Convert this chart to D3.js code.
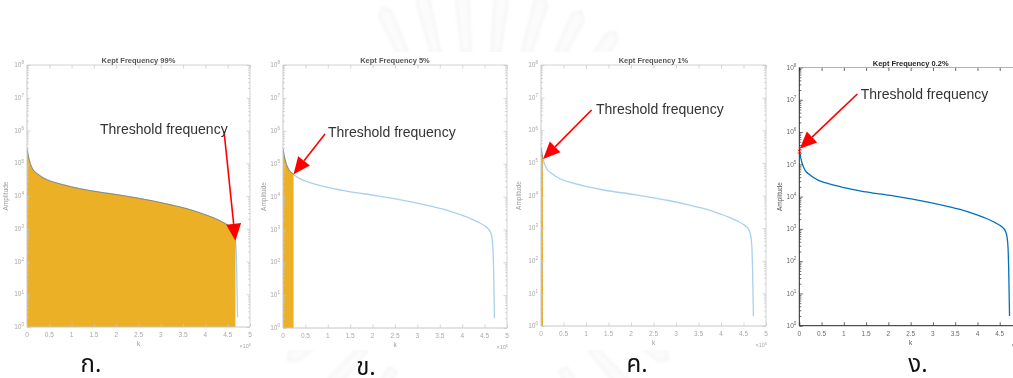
<!DOCTYPE html>
<html>
<head>
<meta charset="utf-8">
<script src="https://cdn.jsdelivr.net/npm/d3@7"></script>
<style>
  body { margin: 0; background: #fff; }
  svg { display: block; }
  text { font-family: "Liberation Sans", Arial, Helvetica, sans-serif; }
</style>
</head>
<body>
<svg id="fig" width="1013" height="378"></svg>
<script>
// Sorted magnitude spectrum: coefficient index k (in units of 10^6) and its amplitude
const kIndex    = [0, 0.0094, 0.025, 0.054, 0.128, 0.24, 0.43, 0.62, 1.0, 1.36, 2.11, 2.86, 3.3, 3.61, 3.99, 4.2, 4.36, 4.5, 4.58, 4.63, 4.66, 4.68, 4.69, 4.70, 4.71, 4.72];
const amplitude = [2.8e5, 2.45e5, 1.8e5, 1.2e5, 6.6e4, 4.7e4, 3.2e4, 2.6e4, 1.9e4, 1.5e4, 1.05e4, 6.9e3, 5.1e3, 4.0e3, 2.7e3, 2.1e3, 1.66e3, 1.29e3, 1.05e3, 830, 600, 355, 200, 68, 12.6, 2];

// Share of coefficients kept in each panel (percent)
const keptPercent = [99, 5, 1, 0.2];
const panelLabels = ["ก.", "ข.", "ค.", "ง."];
const annotationText = "Threshold frequency";

// Axis ticks
const xTicks = [0, 0.5, 1, 1.5, 2, 2.5, 3, 3.5, 4, 4.5, 5];
const yExponents = [0, 1, 2, 3, 4, 5, 6, 7, 8];

// Panel frames, image backgrounds and annotation placement (pixels)
const frames = [
  { left: 27,    right: 250,  top: 65,   bottom: 327,   faded: true,  sheet: [0, 52, 259, 298],   textAt: [100, 134],   arrowFrom: [224, 131],   ylabX: 8,   label: [91, 372] },
  { left: 283,   right: 507,  top: 65,   bottom: 328,   faded: true,  sheet: [262, 52, 254, 298], textAt: [328, 136.7], arrowFrom: [325, 134],   ylabX: 266, label: [366, 375] },
  { left: 541,   right: 766,  top: 65,   bottom: 326,   faded: true,  sheet: [516, 52, 254, 298], textAt: [596, 114.3], arrowFrom: [591.7, 110], ylabX: 521, label: [637, 372] },
  { left: 799.3, right: 1022, top: 67.5, bottom: 325.7, faded: false, sheet: [772, 52, 241, 298], textAt: [860.7, 99],  arrowFrom: [857.3, 94],  ylabX: 782, label: [918, 372] }
];

const fadedStyle = { box: "#c6c6c6", boxTop: "#c6c6c6", tick: "#a8a8a8", title: "#555", axisLabel: "#9a9a9a", line: "#a9d1ec", fill: "#ecb025", edge: "#7a7a7a" };
const sharpStyle = { box: "#262626", boxTop: "#a0a0a0", tick: "#6a6a6a", title: "#262626", axisLabel: "#555", line: "#0072bd", fill: "#edb120", edge: "#000" };

const svg = d3.select("#fig");
const defs = svg.append("defs");
defs.append("filter").attr("id", "soft").attr("x", "-5%").attr("y", "-5%").attr("width", "110%").attr("height", "110%")
  .append("feGaussianBlur").attr("stdDeviation", 0.45);
defs.append("filter").attr("id", "haze").append("feGaussianBlur").attr("stdDeviation", 1.5);

// faint seal watermark behind the panels
const seal = svg.append("g").attr("transform", "translate(478,222)").attr("filter", "url(#haze)").attr("opacity", 0.5);
const rayAngles = d3.range(-24, 44, 10).concat(d3.range(126, 240, 12));
rayAngles.forEach(a => {
  const r0 = 170, r1 = 228, w = 4.5;
  seal.append("path")
    .attr("d", `M${r0},${-w}L${r1},${-w * 1.5}L${r1 + 7},0L${r1},${w * 1.5}L${r0},${w}Z`)
    .attr("transform", `rotate(${a - 90})`)
    .attr("fill", "#f6f6f6").attr("stroke", "#dedede").attr("stroke-width", 1.2);
});

const totalK = kIndex[kIndex.length - 1];
const series = kIndex.map((k, i) => ({ k, a: amplitude[i] }));

// amplitude on the curve at a given k (log-linear between samples)
function amplitudeAt(k) {
  const i = Math.max(1, d3.bisectLeft(kIndex, k));
  const k0 = kIndex[i - 1], k1 = kIndex[i];
  const t = (k - k0) / (k1 - k0);
  return Math.pow(10, Math.log10(amplitude[i - 1]) * (1 - t) + Math.log10(amplitude[i]) * t);
}

function superTen(sel, e, size) {
  sel.append("tspan").text("10");
  sel.append("tspan").attr("dy", -size * 0.45).attr("font-size", size * 0.7).text(e);
}

frames.forEach((f, p) => {
  const st = f.faded ? fadedStyle : sharpStyle;
  const g = svg.append("g");
  g.append("rect").attr("x", f.sheet[0]).attr("y", f.sheet[1]).attr("width", f.sheet[2]).attr("height", f.sheet[3]).attr("fill", "#fff");
  const chart = g.append("g").attr("filter", f.faded ? "url(#soft)" : null);

  const x = d3.scaleLinear().domain([0, 5]).range([f.left, f.right]);
  const y = d3.scaleLog().domain([1, 1e8]).range([f.bottom, f.top]);

  const clipId = "clip" + p;
  defs.append("clipPath").attr("id", clipId).append("rect")
    .attr("x", f.left).attr("y", f.top).attr("width", f.right - f.left).attr("height", f.bottom - f.top);

  const threshold = keptPercent[p] / 100 * totalK;
  const keepId = "keep" + p;
  defs.append("clipPath").attr("id", keepId).append("rect")
    .attr("x", f.left).attr("y", f.top - 5).attr("width", x(threshold) - f.left).attr("height", f.bottom - f.top + 10);

  const lineGen = d3.line().x(d => x(d.k)).y(d => y(d.a)).curve(d3.curveMonotoneX);
  const areaGen = d3.area().x(d => x(d.k)).y0(y(1)).y1(d => y(d.a)).curve(d3.curveMonotoneX);

  const plot = chart.append("g").attr("clip-path", `url(#${clipId})`);
  // full spectrum
  plot.append("path").datum(series).attr("d", lineGen)
    .attr("fill", "none").attr("stroke", st.line).attr("stroke-width", 1.3);
  // kept coefficients
  const kept = plot.append("g").attr("clip-path", `url(#${keepId})`);
  kept.append("path").datum(series).attr("d", areaGen).attr("fill", st.fill);
  kept.append("path").datum(series).attr("d", lineGen)
    .attr("fill", "none").attr("stroke", st.edge).attr("stroke-width", 0.8);
  const thrX = x(threshold);
  const thrY = y(amplitudeAt(threshold));

  // axes: ticks from d3 axis generators, pointing inward
  const axes = chart.append("g").attr("color", st.box);
  const styleAxis = a => { a.select(".domain").remove(); a.selectAll("text").remove(); a.selectAll("line").attr("stroke-width", 0.7); };
  const majors = yExponents.map(e => Math.pow(10, e));
  const minors = [];
  yExponents.slice(0, -1).forEach(e => { for (let m = 2; m < 10; m++) minors.push(m * Math.pow(10, e)); });

  axes.append("g").attr("transform", `translate(${f.left},0)`).call(d3.axisLeft(y).tickValues(majors).tickSize(-3.5)).call(styleAxis);
  axes.append("g").attr("transform", `translate(${f.left},0)`).call(d3.axisLeft(y).tickValues(minors).tickSize(-2)).call(styleAxis);
  axes.append("g").attr("transform", `translate(${f.right},0)`).call(d3.axisRight(y).tickValues(majors).tickSize(-3.5)).call(styleAxis);
  axes.append("g").attr("transform", `translate(${f.right},0)`).call(d3.axisRight(y).tickValues(minors).tickSize(-2)).call(styleAxis);
  axes.append("g").attr("transform", `translate(0,${f.bottom})`).call(d3.axisBottom(x).tickValues(xTicks).tickSize(-3.5)).call(styleAxis);
  axes.append("g").attr("transform", `translate(0,${f.top})`).call(d3.axisTop(x).tickValues(xTicks).tickSize(-3.5)).call(styleAxis);

  // box
  chart.append("line").attr("x1", f.left).attr("x2", f.right).attr("y1", f.top).attr("y2", f.top).attr("stroke", st.boxTop).attr("stroke-width", 0.8);
  chart.append("line").attr("x1", f.right).attr("x2", f.right).attr("y1", f.top).attr("y2", f.bottom).attr("stroke", st.boxTop).attr("stroke-width", 0.8);
  chart.append("line").attr("x1", f.left).attr("x2", f.right).attr("y1", f.bottom).attr("y2", f.bottom).attr("stroke", st.box).attr("stroke-width", 1);
  chart.append("line").attr("x1", f.left).attr("x2", f.left).attr("y1", f.top).attr("y2", f.bottom).attr("stroke", st.box).attr("stroke-width", 1);

  // the thin kept strip sits over the left axis on the sharp panel
  if (!f.faded) {
    chart.append("g").attr("clip-path", `url(#${keepId})`)
      .append("path").datum(series).attr("d", areaGen).attr("fill", "#6b5520").attr("opacity", 0.8);
  }

  // tick labels
  const fs = 6.5;
  chart.append("g").selectAll("text").data(yExponents).join("text")
    .attr("x", f.left - 3).attr("y", e => y(Math.pow(10, e)) + 2.2)
    .attr("text-anchor", "end").attr("font-size", fs).attr("fill", st.tick)
    .each(function (e) { superTen(d3.select(this), e, fs); });
  chart.append("g").selectAll("text").data(xTicks).join("text")
    .attr("x", d => x(d)).attr("y", f.bottom + 10)
    .attr("text-anchor", "middle").attr("font-size", fs).attr("fill", st.tick)
    .text(d => String(d));
  chart.append("text").attr("x", f.right + 1).attr("y", f.bottom + 21)
    .attr("text-anchor", "end").attr("font-size", 5.5).attr("fill", st.tick)
    .call(s => { s.append("tspan").text("×10"); s.append("tspan").attr("dy", -2.5).attr("font-size", 4).text("6"); });

  // axis labels and title
  chart.append("text").attr("x", (f.left + f.right) / 2).attr("y", f.bottom + 19)
    .attr("text-anchor", "middle").attr("font-size", 6.5).attr("fill", st.axisLabel).text("k");
  chart.append("text").attr("transform", `translate(${f.ylabX},${(f.top + f.bottom) / 2}) rotate(-90)`)
    .attr("text-anchor", "middle").attr("font-size", 6.5).attr("fill", st.axisLabel).text("Amplitude");
  chart.append("text").attr("x", (f.left + f.right) / 2).attr("y", f.top - 2)
    .attr("text-anchor", "middle").attr("font-size", 7.5).attr("font-weight", "bold").attr("fill", st.title)
    .text(`Kept Frequency ${keptPercent[p]}%`);

  // threshold marker on the sharp panel
  if (!f.faded) {
    const s = 2;
    g.append("path").attr("d", `M${thrX - s},${thrY - s}L${thrX + s},${thrY + s}M${thrX - s},${thrY + s}L${thrX + s},${thrY - s}`)
      .attr("stroke", "#ff0000").attr("stroke-width", 0.8);
  }

  // annotation: red arrow to the threshold point
  const tip = [thrX, thrY - (f.faded ? 0 : 3)];
  const [fx, fy] = f.arrowFrom;
  const dx = tip[0] - fx, dy = tip[1] - fy, len = Math.hypot(dx, dy);
  const ux = dx / len, uy = dy / len;
  const headL = 17, headW = 15;
  const bx = tip[0] - ux * headL, by = tip[1] - uy * headL;
  g.append("line").attr("x1", fx).attr("y1", fy).attr("x2", bx).attr("y2", by)
    .attr("stroke", "#ff0000").attr("stroke-width", 1.6);
  g.append("path").attr("d", `M${tip[0]},${tip[1]}L${bx - uy * headW / 2},${by + ux * headW / 2}L${bx + uy * headW / 2},${by - ux * headW / 2}Z`)
    .attr("fill", "#ff0000");
  g.append("text").attr("x", f.textAt[0]).attr("y", f.textAt[1])
    .attr("font-size", 14).attr("fill", "#333").text(annotationText);

  // panel caption
  svg.append("text").attr("x", f.label[0]).attr("y", f.label[1])
    .attr("text-anchor", "middle").attr("font-size", 24).attr("fill", "#111")
    .style("font-family", "'Noto Sans Thai', 'Noto Sans', 'DejaVu Sans', sans-serif")
    .text(panelLabels[p]);
});
</script>
</body>
</html>
